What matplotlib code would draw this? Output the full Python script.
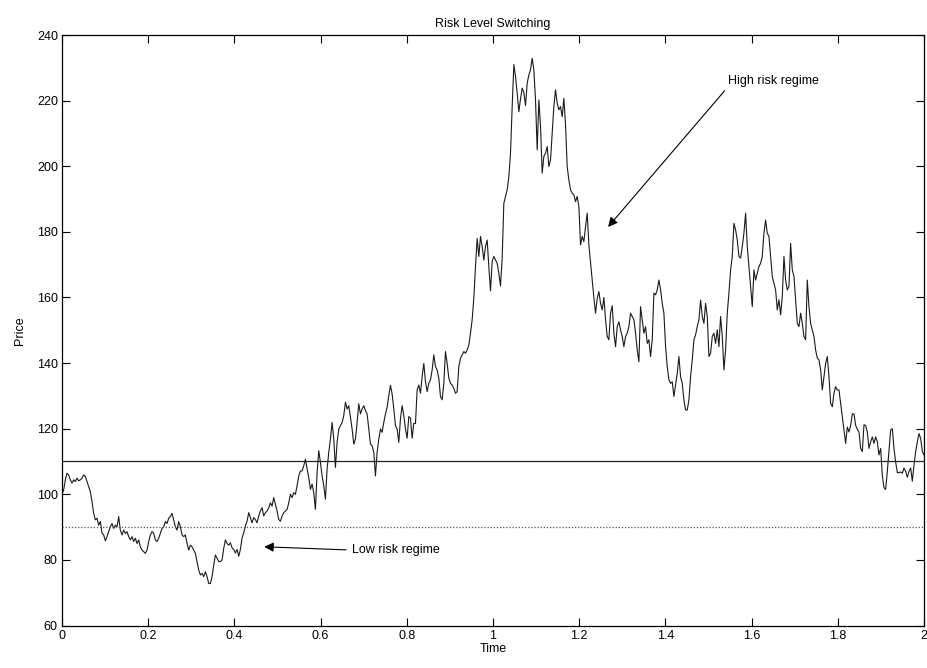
import numpy as np
import matplotlib
matplotlib.use('Agg')
import matplotlib.pyplot as plt

plt.rcParams['font.family'] = ['Liberation Sans', 'DejaVu Sans']

# simulated price path, sampled on a uniform grid over [0, 2]
price = [
    100.0, 101.3, 104.4, 106.4, 105.9, 104.4, 103.4, 104.4, 103.9, 104.9,
    104.1, 104.4, 104.9, 105.9, 105.4, 103.9, 102.3, 100.8, 97.8, 94.2,
    92.2, 92.7, 90.6, 91.7, 88.1, 87.6, 85.8, 87.1, 88.6, 90.1,
    91.1, 89.6, 90.6, 90.1, 93.2, 89.1, 87.6, 89.1, 88.1, 88.6,
    87.1, 86.1, 87.1, 85.6, 86.6, 85.0, 86.1, 84.0, 83.0, 82.5,
    82.0, 83.0, 85.6, 87.6, 88.6, 88.1, 86.1, 85.6, 86.6, 88.1,
    89.6, 90.1, 91.7, 91.1, 92.7, 93.2, 94.2, 92.2, 90.1, 89.1,
    91.7, 90.1, 87.6, 87.1, 87.6, 85.0, 83.0, 84.5, 84.0, 83.0,
    82.0, 79.5, 76.9, 75.4, 75.9, 74.9, 76.4, 74.9, 72.8, 72.8,
    74.9, 78.4, 81.5, 80.5, 79.5, 79.5, 80.0, 83.5, 86.1, 85.0,
    84.5, 85.2, 83.7, 83.2, 82.1, 83.2, 81.1, 83.2, 86.7, 88.3,
    90.3, 91.8, 94.4, 92.9, 91.3, 92.9, 92.3, 91.3, 93.4, 94.9,
    95.9, 93.4, 94.4, 94.9, 95.9, 97.4, 96.4, 99.0, 96.9, 94.9,
    92.3, 91.8, 93.4, 94.4, 94.9, 95.4, 97.4, 100.0, 99.0, 100.5,
    100.0, 102.6, 105.6, 107.1, 107.1, 108.7, 110.7, 107.7, 105.1, 101.5,
    103.1, 100.5, 95.4, 106.6, 113.3, 109.7, 105.6, 102.6, 98.5, 107.7,
    112.8, 116.8, 121.9, 116.8, 108.2, 115.8, 119.9, 120.9, 121.9, 124.0,
    128.1, 126.0, 127.0, 123.5, 119.9, 115.3, 116.8, 121.9, 127.6, 124.5,
    126.0, 127.0, 125.5, 124.5, 119.9, 115.3, 114.8, 112.8, 105.6, 112.8,
    116.8, 119.9, 118.9, 121.9, 124.5, 126.5, 130.1, 133.2, 130.6, 126.0,
    120.9, 119.9, 115.8, 123.0, 127.0, 124.0, 119.9, 117.1, 123.7, 123.2,
    117.1, 121.6, 121.6, 131.8, 133.3, 130.8, 135.9, 139.9, 134.3, 131.3,
    133.8, 134.9, 137.9, 142.5, 138.9, 137.9, 135.4, 129.8, 128.8, 133.8,
    143.5, 139.9, 135.4, 133.8, 133.3, 132.3, 130.8, 131.3, 138.9, 141.5,
    142.5, 143.5, 143.0, 144.0, 145.5, 149.1, 153.2, 159.8, 169.4, 178.0,
    172.5, 178.6, 175.5, 171.4, 175.5, 177.5, 169.4, 162.0, 171.0, 172.5,
    171.4, 170.4, 167.4, 163.5, 172.0, 188.7, 190.8, 192.8, 196.8, 204.0,
    218.2, 231.0, 227.3, 222.3, 216.6, 220.5, 223.8, 222.5, 218.5, 225.3,
    227.8, 229.4, 232.9, 229.4, 220.2, 205.0, 220.2, 212.1, 197.9, 203.0,
    204.0, 206.0, 199.9, 201.9, 210.1, 218.2, 223.3, 219.2, 217.2, 218.2,
    215.1, 220.7, 212.6, 199.9, 195.8, 192.8, 191.8, 191.3, 189.2, 190.8,
    187.7, 176.0, 178.6, 177.0, 181.6, 185.7, 176.0, 170.5, 165.3, 160.0,
    155.2, 159.7, 161.8, 158.2, 156.2, 160.0, 153.2, 148.1, 147.1, 155.2,
    157.5, 149.1, 145.0, 151.1, 152.6, 150.1, 148.1, 145.0, 148.1, 149.1,
    151.1, 155.2, 154.2, 153.2, 149.1, 144.0, 140.4, 157.2, 153.2, 149.1,
    151.1, 146.0, 147.1, 142.0, 147.1, 161.3, 160.8, 162.3, 165.3, 162.3,
    158.2, 155.2, 145.0, 138.9, 134.9, 133.8, 134.3, 129.8, 133.3, 136.9,
    142.0, 135.9, 133.8, 128.8, 125.7, 125.7, 128.8, 135.9, 141.0, 147.1,
    148.6, 151.1, 153.2, 159.2, 154.2, 152.1, 158.2, 154.2, 142.0, 143.0,
    148.1, 149.1, 146.0, 150.1, 145.0, 154.2, 148.1, 137.9, 144.0, 155.2,
    161.3, 168.4, 172.5, 182.6, 180.6, 177.5, 172.5, 172.0, 175.5, 179.6,
    185.7, 175.5, 169.4, 163.3, 157.2, 168.4, 165.3, 167.4, 169.4, 170.4,
    172.5, 179.6, 183.6, 179.6, 178.6, 172.5, 166.4, 164.3, 162.3, 156.2,
    159.3, 154.7, 160.3, 172.5, 165.3, 162.3, 163.3, 176.5, 168.4, 166.4,
    159.3, 152.1, 151.1, 155.2, 152.1, 148.1, 147.1, 165.3, 157.2, 152.1,
    150.1, 148.1, 144.0, 141.5, 141.0, 137.9, 131.8, 135.9, 139.9, 142.0,
    135.9, 127.7, 126.7, 130.8, 132.8, 131.8, 131.8, 127.7, 123.7, 119.6,
    115.5, 120.5, 119.0, 121.0, 124.5, 124.5, 121.0, 119.8, 119.0, 114.0,
    113.0, 121.2, 121.0, 119.0, 114.0, 116.0, 117.5, 115.5, 117.5, 116.0,
    112.0, 114.0, 105.8, 102.0, 101.5, 107.0, 113.5, 119.6, 120.0, 113.9,
    109.8, 106.6, 106.6, 106.8, 106.4, 108.0, 107.0, 105.2, 107.0, 108.0,
    104.0, 109.0, 113.0, 116.0, 118.5, 117.0, 113.0, 112.0,
]
time = np.linspace(0, 2, len(price))

high_level = 110
low_level = 90

xticks = [0, 0.2, 0.4, 0.6, 0.8, 1, 1.2, 1.4, 1.6, 1.8, 2]
xticklabels = ['0', '0.2', '0.4', '0.6', '0.8', '1', '1.2', '1.4', '1.6', '1.8', '2']
yticks = [60, 80, 100, 120, 140, 160, 180, 200, 220, 240]

fig = plt.figure(figsize=(9.28, 6.68), dpi=100)
ax = fig.add_axes([0.0668, 0.0636, 0.9289, 0.884])

ax.plot(time, price, color='#1a1a1a', lw=0.8)
ax.axhline(high_level, color='#222222', lw=0.9)
ax.axhline(low_level, color='#555555', lw=0.9, ls=(0, (1, 1.5)))

ax.set_xlim(0, 2)
ax.set_ylim(60, 240)
ax.set_xticks(xticks)
ax.set_xticklabels(xticklabels)
ax.set_yticks(yticks)
ax.tick_params(direction='in', length=6, width=0.8, top=True, right=True,
               labelsize=9, pad=3)
for s in ax.spines.values():
    s.set_linewidth(0.9)

ax.set_title('Risk Level Switching', fontsize=9, pad=6)
ax.set_xlabel('Time', fontsize=9, labelpad=1)
ax.set_ylabel('Price', fontsize=9, labelpad=8)

# regime annotations, arrow leaves from the lower-left corner of the text
arrow = dict(arrowstyle='-|>', color='black', lw=0.8, mutation_scale=14,
             shrinkA=1, shrinkB=0, relpos=(0, 0))
ax.annotate('High risk regime', xy=(1.267, 181.5), xytext=(1.545, 226.0),
            fontsize=9, va='center', ha='left', arrowprops=arrow)
ax.annotate('Low risk regime', xy=(0.469, 84.0), xytext=(0.672, 83.0),
            fontsize=9, va='center', ha='left',
            arrowprops=dict(arrow, relpos=(0, 0.5), shrinkA=2))

fig.savefig('out.png', dpi=100)
